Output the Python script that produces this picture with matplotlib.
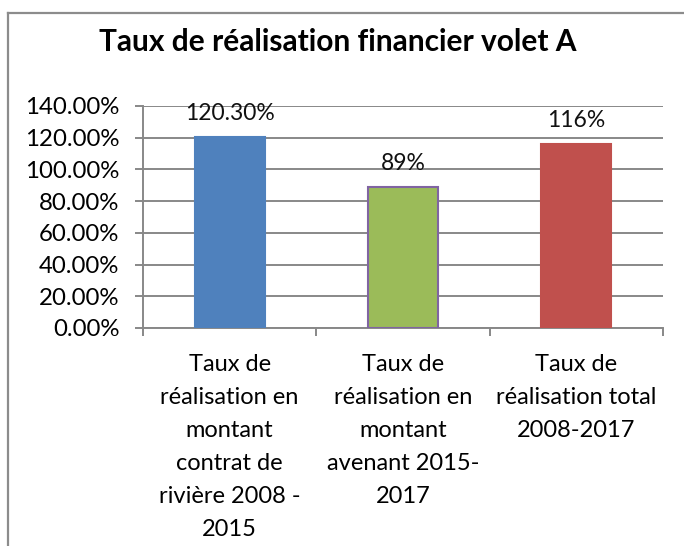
import matplotlib
matplotlib.use("Agg")
from matplotlib import pyplot as plt
from matplotlib.lines import Line2D
import numpy as np

title = "Taux de réalisation financier volet A"
categories = [
    "Taux de\nréalisation en\nmontant\ncontrat de\nrivière 2008 -\n2015",
    "Taux de\nréalisation en\nmontant\navenant 2015-\n2017",
    "Taux de\nréalisation total\n2008-2017",
]
values = [1.203, 0.89, 1.16]
value_labels = ["120.30%", "89%", "116%"]
bar_colors = ["#4F81BD", "#9BBB59", "#C0504D"]
edge_colors = ["#4F81BD", "#8064A2", "#C0504D"]
yticks = np.arange(0, 1.41, 0.2)

plt.rcParams['font.family'] = ['Lato', 'DejaVu Sans']
grid_col = "#888888"

fig = plt.figure(figsize=(6.84, 5.46), dpi=100)
ax = fig.add_axes([143 / 684, 1 - 328 / 546, 520 / 684, 222 / 546])

x = np.arange(len(values))
ax.bar(x, values, width=0.405, color=bar_colors, edgecolor=edge_colors,
       linewidth=1.5, zorder=3)
for xi, v, lab in zip(x, values, value_labels):
    ax.annotate(lab, (xi, v), xytext=(0, 17), textcoords="offset points",
                ha="center", va="center", fontsize=16.5, color="#111111")

ax.set_xlim(-0.5, 2.5)
ax.set_ylim(0, 1.4)
ax.set_yticks(yticks)
ax.set_yticklabels(["{:.2f}%".format(t * 100) for t in yticks], fontsize=17.3)
ax.yaxis.grid(True, color=grid_col, linewidth=1.4, zorder=0)

ax.set_xticks(x)
ax.set_xticklabels(categories, fontsize=17, linespacing=1.7)
ax.set_xticks([-0.5, 0.5, 1.5, 2.5], minor=True)
ax.tick_params(axis="x", which="major", length=0, pad=19)
ax.tick_params(axis="x", which="minor", length=6, color=grid_col, width=1.4)
ax.tick_params(axis="y", length=6, color=grid_col, width=1.4, pad=11)

for s in ["top", "right"]:
    ax.spines[s].set_visible(False)
for s in ["left", "bottom"]:
    ax.spines[s].set_color(grid_col)
    ax.spines[s].set_linewidth(1.4)

fig.text(338 / 684, 1 - 42 / 546, title, ha="center", va="center",
         fontsize=21.5, fontweight="bold")

# outer chart border (cropped at right and bottom)
fig.add_artist(Line2D([8 / 684, 1], [1 - 13 / 546] * 2, color="#8c8c8c", lw=1.6))
fig.add_artist(Line2D([8 / 684] * 2, [0, 1 - 13 / 546], color="#8c8c8c", lw=1.6))

fig.savefig("out.png", dpi=100)
